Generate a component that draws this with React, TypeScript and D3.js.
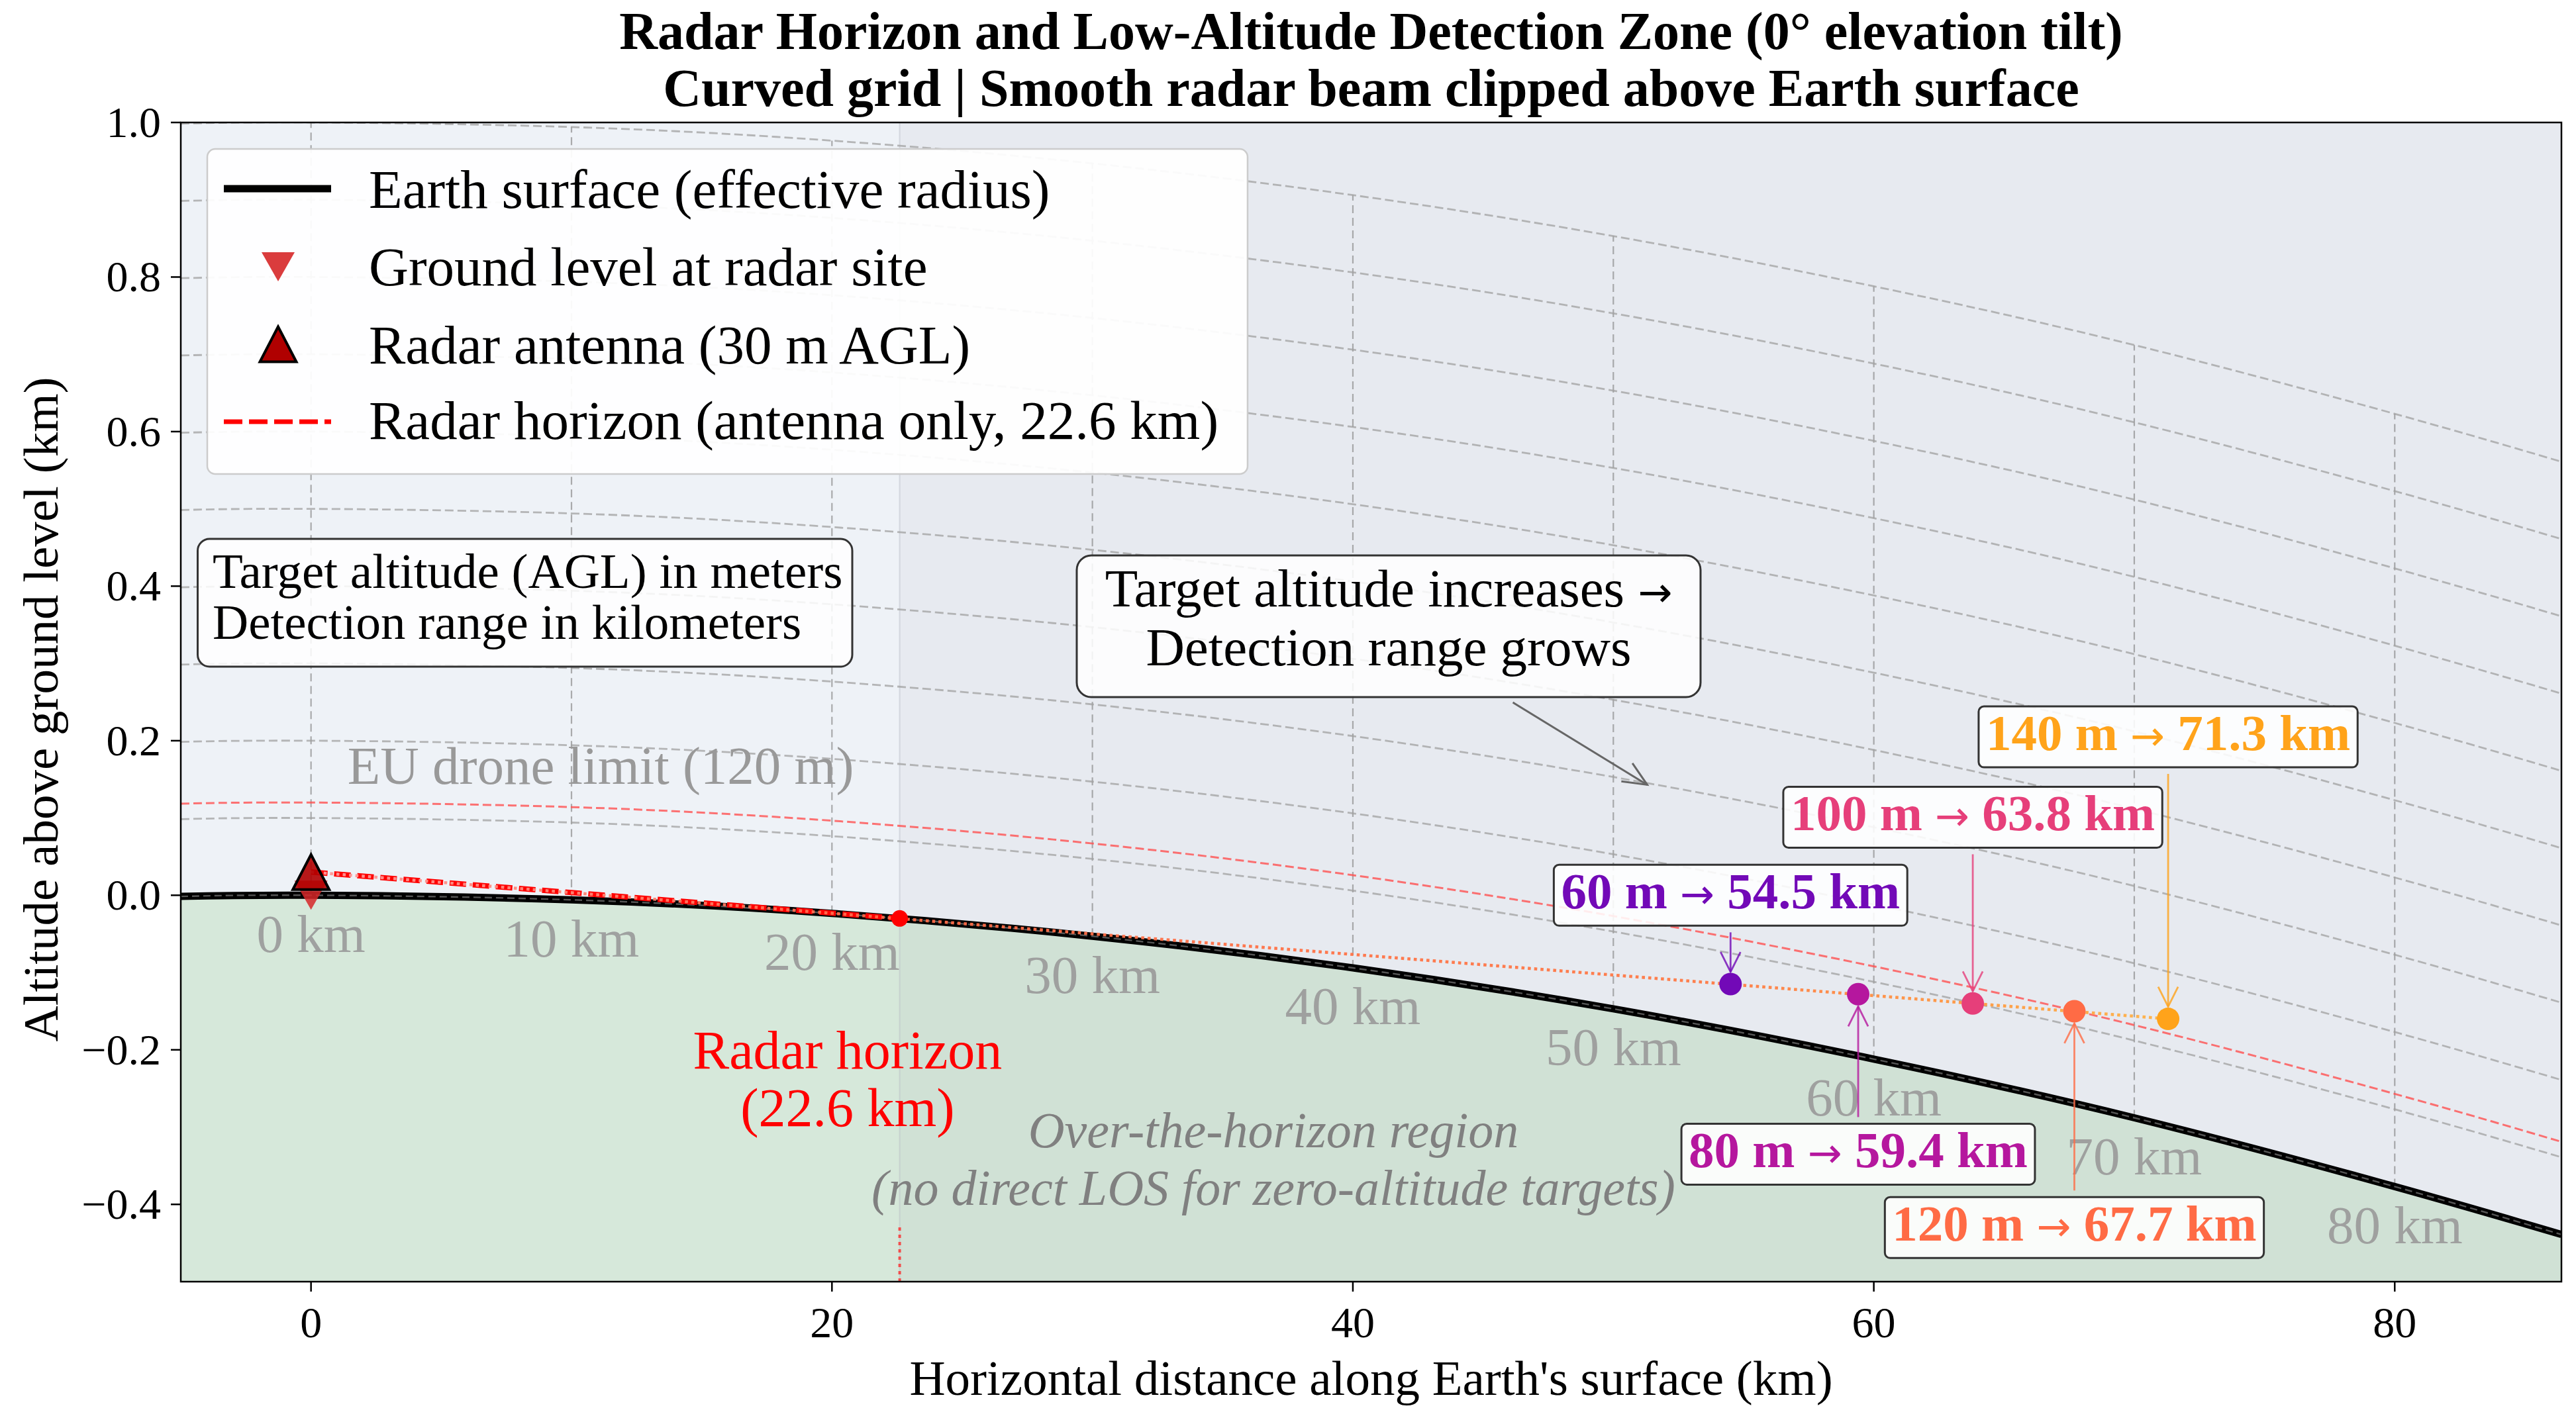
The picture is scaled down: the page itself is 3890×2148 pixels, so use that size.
import React from 'react';
import * as d3 from 'd3';

const W = 3890;
const H = 2148;
const M = { left: 273, right: 3868, top: 185, bottom: 1936 };

const X_DOMAIN: [number, number] = [-5, 86.4];
const Y_DOMAIN: [number, number] = [-0.5, 1.0];
const X_TICKS = [0, 20, 40, 60, 80];
const Y_TICKS = [-0.4, -0.2, 0, 0.2, 0.4, 0.6, 0.8, 1.0];

// Earth surface (effective radius)
const SURFACE_DIST_KM = [-5, 0, 10, 20, 30, 40, 50, 60, 70, 80, 86.4];
const SURFACE_ALT_KM = [-0.0015, 0, -0.0059, -0.0235, -0.053, -0.094, -0.147, -0.212, -0.288, -0.377, -0.439];

const GRID_LEVELS_KM = [0, 0.1, 0.2, 0.3, 0.4, 0.5, 0.6, 0.7, 0.8, 0.9, 1.0];
const DIST_MARKS_KM = [0, 10, 20, 30, 40, 50, 60, 70, 80];
const EU_LIMIT_KM = 0.12;

const ANTENNA_ALT_KM = 0.03;
const HORIZON_KM = 22.6;
const HORIZON_ALT_KM = -0.03;

const TARGET_ALT_M = [60, 80, 100, 120, 140];
const TARGET_RANGE_KM = [54.5, 59.4, 63.8, 67.7, 71.3];
const TARGET_Y_KM = [-0.115, -0.128, -0.14, -0.15, -0.16];
const LABEL_Y_KM = [0.0, -0.335, 0.101, -0.43, 0.205];
const TARGET_COLORS = ['#7209b7', '#b5179e', '#e63f7a', '#ff6b45', '#ffa31a'];

const LEGEND_LABELS = [
  'Earth surface (effective radius)',
  'Ground level at radar site',
  'Radar antenna (30 m AGL)',
  'Radar horizon (antenna only, 22.6 km)',
];

const FONT = '"Liberation Serif", "DejaVu Serif", serif';

let ctx: CanvasRenderingContext2D | null = null;
function textWidth(t: string, font: string) {
  if (!ctx) ctx = document.createElement('canvas').getContext('2d');
  ctx!.font = font;
  return ctx!.measureText(t).width;
}

const triUp = (cx: number, cy: number, w: number, h: number) =>
  `M${cx},${cy - h / 2}L${cx - w / 2},${cy + h / 2}L${cx + w / 2},${cy + h / 2}Z`;
const triDown = (cx: number, cy: number, w: number, h: number) =>
  `M${cx},${cy + h / 2}L${cx - w / 2},${cy - h / 2}L${cx + w / 2},${cy - h / 2}Z`;
const arrowHead = (x1: number, y1: number, x2: number, y2: number, L = 30, hw = 15) => {
  const dx = x2 - x1, dy = y2 - y1, len = Math.hypot(dx, dy);
  const ux = dx / len, uy = dy / len, nx = -uy, ny = ux;
  const bx = x2 - ux * L, by = y2 - uy * L;
  return `M${bx + nx * hw},${by + ny * hw}L${x2},${y2}L${bx - nx * hw},${by - ny * hw}`;
};

export default function App() {
  const x = d3.scaleLinear().domain(X_DOMAIN).range([M.left, M.right]);
  const y = d3.scaleLinear().domain(Y_DOMAIN).range([M.bottom, M.top]);
  const surf: [number, number][] = SURFACE_DIST_KM.map((d, i) => [d, SURFACE_ALT_KM[i]]);
  const altAt = (d: number) => SURFACE_ALT_KM[SURFACE_DIST_KM.indexOf(d)];
  const lineAt = (off: number) =>
    d3.line<[number, number]>().x(p => x(p[0])).y(p => y(p[1] + off)).curve(d3.curveNatural)(surf)!;
  const ground = d3
    .area<[number, number]>()
    .x(p => x(p[0]))
    .y0(y(Y_DOMAIN[0]))
    .y1(p => y(p[1]))
    .curve(d3.curveNatural)(surf)!;

  const pw = M.right - M.left;
  const ph = M.bottom - M.top;
  const lastI = TARGET_RANGE_KM.length - 1;

  // target label geometry
  const LFS = 77;
  const lblFont = `bold ${LFS}px ${FONT}`;
  const arrowFont = `${Math.round(LFS * 0.8)}px "DejaVu Sans"`;
  const labels = TARGET_ALT_M.map((alt, i) => {
    const pre = `${alt} m `;
    const post = ` ${TARGET_RANGE_KM[i].toFixed(1)} km`;
    const tw = textWidth(pre, lblFont) + textWidth('→', arrowFont) + textWidth(post, lblFont);
    const cx = x(TARGET_RANGE_KM[i]);
    const cy = y(LABEL_Y_KM[i]);
    const bw = tw + 22;
    const bh = 92;
    const px = x(TARGET_RANGE_KM[i]);
    const py = y(TARGET_Y_KM[i]);
    const above = cy < py;
    const ay1 = above ? cy + bh / 2 + 10 : cy - bh / 2 - 10;
    const ay2 = above ? py - 18.5 : py + 18.5;
    return { pre, post, cx, cy, bw, bh, px, py, ay1, ay2, color: TARGET_COLORS[i] };
  });

  // annotation box B
  const bB = { x0: 1626, x1: 2568, y0: 839, y1: 1053 };
  const bBc = [(bB.x0 + bB.x1) / 2, (bB.y0 + bB.y1) / 2];
  const arrEnd = [x(51.3), y(0.143)];
  const tB = (bB.y1 + 8 - bBc[1]) / (arrEnd[1] - bBc[1]);
  const arrStart = [bBc[0] + tB * (arrEnd[0] - bBc[0]), bB.y1 + 8];

  const fmtY = (v: number) => (Math.abs(v) < 1e-9 ? '0.0' : v.toFixed(1).replace('-', '\u2212'));

  const legendRowY = [285, 403, 520, 637];
  const legendBase = [314, 431, 549, 663];

  return (
    <svg
      width={W}
      height={H}
      style={{ position: 'absolute', left: 0, top: 0, background: '#ffffff' }}
      fontFamily={FONT}
    >
      <defs>
        <clipPath id="plotclip">
          <rect x={M.left} y={M.top} width={pw} height={ph} />
        </clipPath>
        <linearGradient id="beamgrad" gradientUnits="userSpaceOnUse" x1={x(0)} y1={0} x2={x(TARGET_RANGE_KM[lastI])} y2={0}>
          <stop offset="0" stopColor="#ff9a9a" />
          <stop offset="0.3" stopColor="#ff6a48" />
          <stop offset="0.75" stopColor="#ff7a45" />
          <stop offset="0.9" stopColor="#ff9a40" />
          <stop offset="1" stopColor="#ffb347" />
        </linearGradient>
      </defs>

      <rect x={0} y={0} width={W} height={H} fill="#ffffff" />

      <g clipPath="url(#plotclip)">
        <rect x={M.left} y={M.top} width={pw} height={ph} fill="#eef2f7" />
        <path d={ground} fill="#d6e8da" />
        <rect x={x(HORIZON_KM)} y={M.top} width={M.right - x(HORIZON_KM)} height={ph} fill="#8a8f9a" fillOpacity={0.07} />
        <line x1={x(HORIZON_KM)} x2={x(HORIZON_KM)} y1={M.top} y2={M.bottom} stroke="#b8bcc4" strokeWidth={2} opacity={0.45} />

        {/* vertical (radial) grid */}
        {DIST_MARKS_KM.map(d => (
          <line
            key={'vg' + d}
            x1={x(d)}
            x2={x(d)}
            y1={y(altAt(d))}
            y2={y(altAt(d) + GRID_LEVELS_KM[GRID_LEVELS_KM.length - 1])}
            stroke="#8c8c8c"
            strokeOpacity={0.7}
            strokeWidth={2.2}
            strokeDasharray="12 7"
          />
        ))}
        {/* curved altitude grid */}
        {GRID_LEVELS_KM.filter(l => l > 0).map(l => (
          <path key={'cg' + l} d={lineAt(l)} fill="none" stroke="#a0a0a0" strokeOpacity={0.75} strokeWidth={2.8} strokeDasharray="13 6" />
        ))}
        {/* EU drone limit */}
        <path d={lineAt(EU_LIMIT_KM)} fill="none" stroke="#ff5050" strokeOpacity={0.8} strokeWidth={3} strokeDasharray="13 6" />

        {/* Earth surface */}
        <path d={lineAt(0)} fill="none" stroke="#000000" strokeWidth={11} />
        <path d={lineAt(GRID_LEVELS_KM[0])} fill="none" stroke="#9a9a9a" strokeOpacity={0.55} strokeWidth={2.4} strokeDasharray="11 6" />

        {/* horizon marker line at the bottom */}
        <line x1={x(HORIZON_KM)} x2={x(HORIZON_KM)} y1={y(Y_DOMAIN[0])} y2={y(-0.425)} stroke="#ff2020" strokeOpacity={0.75} strokeWidth={4} strokeDasharray="5 6" />

        {/* radar line of sight to horizon */}
        <line x1={x(0)} y1={y(ANTENNA_ALT_KM)} x2={x(HORIZON_KM)} y2={y(HORIZON_ALT_KM)} stroke="#ff0000" strokeWidth={8} strokeDasharray="25 10" />
        {/* smooth beam */}
        <line
          x1={x(0)}
          y1={y(ANTENNA_ALT_KM)}
          x2={x(TARGET_RANGE_KM[lastI])}
          y2={y(TARGET_Y_KM[lastI])}
          stroke="url(#beamgrad)"
          strokeOpacity={0.95}
          strokeWidth={4.6}
          strokeDasharray="4.6 5"
        />
        <circle cx={x(HORIZON_KM)} cy={y(HORIZON_ALT_KM)} r={12.5} fill="#ff0000" />

        {/* radar site markers */}
        <path d={triDown(x(0), y(0), 50, 44)} fill="#d62728" fillOpacity={0.85} />
        <path d={triUp(x(0), y(ANTENNA_ALT_KM), 55, 53)} fill="#b00000" fillOpacity={0.9} stroke="#000" strokeWidth={4} strokeLinejoin="miter" />

        {/* distance labels along surface */}
        {DIST_MARKS_KM.map(d => (
          <text
            key={'dl' + d}
            x={x(d)}
            y={y(altAt(d) - 0.05) + 27}
            textAnchor="middle"
            fontSize={81}
            fill="#999999"
            fillOpacity={0.9}
          >
            {`${d} km`}
          </text>
        ))}

        {/* target points */}
        {labels.map((l, i) => (
          <circle key={'tp' + i} cx={l.px} cy={l.py} r={17} fill={l.color} />
        ))}
        {labels.map((l, i) => (
          <g key={'ta' + i} stroke={l.color} strokeOpacity={0.8} strokeWidth={2.8} fill="none">
            <line x1={l.px} y1={l.ay1} x2={l.px} y2={l.ay2} />
            <path d={arrowHead(l.px, l.ay1, l.px, l.ay2, 30, 15)} />
          </g>
        ))}
      </g>

      {/* text annotations inside plot */}
      <text x={x(1.4)} y={y(0.144)} fontSize={81} fill="#999999">
        EU drone limit (120 m)
      </text>
      <text x={x(HORIZON_KM - 2.0)} textAnchor="middle" fontSize={82} fill="#ff0000">
        <tspan x={x(HORIZON_KM - 2.0)} y={1614}>Radar horizon</tspan>
        <tspan x={x(HORIZON_KM - 2.0)} y={1701}>(22.6 km)</tspan>
      </text>
      <text textAnchor="middle" fontSize={76} fontStyle="italic" fill="#808080">
        <tspan x={x(36.95)} y={1733}>Over-the-horizon region</tspan>
        <tspan x={x(36.95)} y={1820}>(no direct LOS for zero-altitude targets)</tspan>
      </text>

      {/* Box A */}
      <rect x={298.5} y={814} width={1287 - 298.5} height={1007 - 814} rx={18} fill="#ffffff" fillOpacity={0.85} stroke="#333333" strokeWidth={3} />
      <text fontSize={75} fill="#000">
        <tspan x={321} y={888}>Target altitude (AGL) in meters</tspan>
        <tspan x={321} y={965}>Detection range in kilometers</tspan>
      </text>

      {/* Box B */}
      <rect x={bB.x0} y={bB.y0} width={bB.x1 - bB.x0} height={bB.y1 - bB.y0} rx={22} fill="#ffffff" fillOpacity={0.85} stroke="#333333" strokeWidth={3} />
      <text fontSize={81} fill="#000" textAnchor="middle">
        <tspan x={bBc[0]} y={916}>
          Target altitude increases{' '}
          <tspan fontFamily='"DejaVu Sans"' fontSize={62}>→</tspan>
        </tspan>
        <tspan x={bBc[0]} y={1005}>Detection range grows</tspan>
      </text>
      <g stroke="#666666" strokeWidth={3} fill="none">
        <line x1={arrStart[0]} y1={arrStart[1]} x2={arrEnd[0]} y2={arrEnd[1]} />
        <path d={arrowHead(arrStart[0], arrStart[1], arrEnd[0], arrEnd[1], 36, 16)} />
      </g>

      {/* target label boxes */}
      {labels.map((l, i) => (
        <g key={'lb' + i}>
          <rect x={l.cx - l.bw / 2} y={l.cy - l.bh / 2} width={l.bw} height={l.bh} rx={8} fill="#ffffff" fillOpacity={0.88} stroke="#333333" strokeWidth={3} />
          <text x={l.cx} y={l.cy - l.bh / 2 + 66} textAnchor="middle" fontSize={LFS} fontWeight="bold" fill={l.color}>
            {l.pre}
            <tspan fontFamily='"DejaVu Sans"' fontWeight="normal" fontSize={Math.round(LFS * 0.8)}>→</tspan>
            {l.post}
          </text>
        </g>
      ))}

      {/* Legend */}
      <rect x={313} y={225} width={1884 - 313} height={716 - 225} rx={12} fill="#ffffff" fillOpacity={0.93} stroke="#cccccc" strokeWidth={2.5} />
      <line x1={338} x2={500} y1={legendRowY[0]} y2={legendRowY[0]} stroke="#000" strokeWidth={11} />
      <path d={triDown(420, legendRowY[1], 50, 44)} fill="#d62728" fillOpacity={0.9} />
      <path d={triUp(420, legendRowY[2], 55, 53)} fill="#b00000" stroke="#000" strokeWidth={4} />
      <line x1={338} x2={500} y1={legendRowY[3]} y2={legendRowY[3]} stroke="#ff0000" strokeWidth={7} strokeDasharray="28 10" />
      {LEGEND_LABELS.map((t, i) => (
        <text key={'lg' + i} x={557} y={legendBase[i]} fontSize={83} fill="#000">
          {t}
        </text>
      ))}

      {/* spines */}
      <rect x={M.left} y={M.top} width={pw} height={ph} fill="none" stroke="#000" strokeWidth={2.5} />

      {/* ticks */}
      {X_TICKS.map(t => (
        <g key={'xt' + t}>
          <line x1={x(t)} x2={x(t)} y1={M.bottom} y2={M.bottom + 15} stroke="#000" strokeWidth={2.5} />
          <text x={x(t)} y={2020} textAnchor="middle" fontSize={66} fill="#000">
            {String(t)}
          </text>
        </g>
      ))}
      {Y_TICKS.map(t => (
        <g key={'yt' + t}>
          <line x1={M.left - 15} x2={M.left} y1={y(t)} y2={y(t)} stroke="#000" strokeWidth={2.5} />
          <text x={243} y={y(t) + 22} textAnchor="end" fontSize={66} fill="#000">
            {fmtY(t)}
          </text>
        </g>
      ))}

      {/* axis labels */}
      <text x={(M.left + M.right) / 2} y={2107} textAnchor="middle" fontSize={75} fill="#000">
        Horizontal distance along Earth's surface (km)
      </text>
      <text transform={`translate(87, ${(572 + 1571) / 2}) rotate(-90)`} textAnchor="middle" fontSize={75} fill="#000">
        Altitude above ground level (km)
      </text>

      {/* title */}
      <text textAnchor="middle" fontSize={80} fontWeight="bold" fill="#000">
        <tspan x={(M.left + M.right) / 2} y={74}>
          Radar Horizon and Low-Altitude Detection Zone (0° elevation tilt)
        </tspan>
        <tspan x={(M.left + M.right) / 2} y={160}>
          Curved grid | Smooth radar beam clipped above Earth surface
        </tspan>
      </text>
    </svg>
  );
}
